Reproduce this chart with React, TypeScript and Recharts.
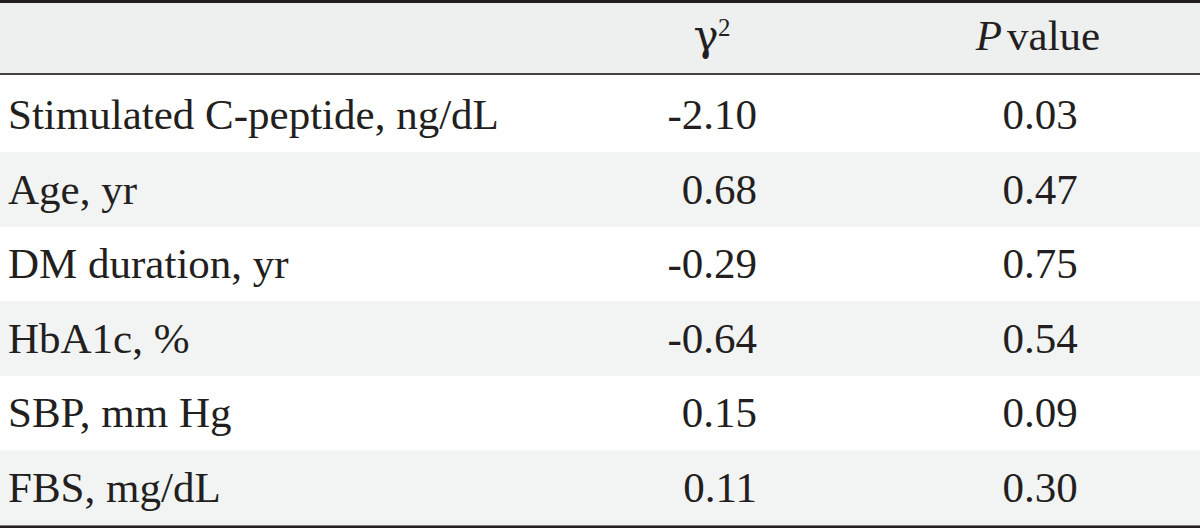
import React from 'react';
import { BarChart, Bar, XAxis, YAxis } from 'recharts';

// Table contents (header row first)
const rowKeys = ['header', 'cpep', 'age', 'dm', 'hba1c', 'sbp', 'fbs'];
const rowLabels = ['', 'Stimulated C-peptide, ng/dL', 'Age, yr', 'DM duration, yr', 'HbA1c, %', 'SBP, mm Hg', 'FBS, mg/dL'];
const gammaValues = ['', '-2.10', '0.68', '-0.29', '-0.64', '0.15', '0.11'];
const pValues = ['', '0.03', '0.47', '0.75', '0.54', '0.09', '0.30'];

const data = rowKeys.map((key, i) => ({
  key,
  label: rowLabels[i],
  gamma: gammaValues[i],
  p: pValues[i],
  span: 1,
}));

const INK = '#231f20';
const HEADER_BG = '#eeefef';
const STRIPE_BG = '#f2f3f3';
const FONT = '"Liberation Serif", "Times New Roman", serif';
const FONT_SIZE = 43;

const LABEL_X = 8;
const GAMMA_RIGHT = 757;
const GAMMA_HEAD_X = 706;
const P_CENTER = 1040;

const RowShape = (props: any) => {
  const { x, y, width, height, index } = props;
  const last = index === data.length - 1;

  if (index === 0) {
    return (
      <g>
        <rect x={x} y={y - 3} width={width} height={3} fill={INK} />
        <rect x={x} y={y} width={width} height={70} fill={HEADER_BG} />
        <rect x={x} y={y + 70} width={width} height={2} fill="#444" />
        <text x={GAMMA_HEAD_X} y={y + 47} textAnchor="middle" fill={INK} fontFamily='"DejaVu Serif", serif' fontWeight={300} fontSize={42}>
          γ
        </text>
        <text x={GAMMA_HEAD_X + 12} y={y + 33} fill={INK} fontFamily={FONT} fontSize={25}>
          2
        </text>
        <text x={P_CENTER - 2} y={y + 47} textAnchor="middle" fill={INK} fontFamily={FONT} fontSize={FONT_SIZE}>
          <tspan fontStyle="italic">P</tspan>
          <tspan dx={5}>value</tspan>
        </text>
      </g>
    );
  }

  const row = data[index];
  const baseline = y + height / 2 + 14;
  return (
    <g>
      <rect x={x} y={y} width={width} height={height} fill={index % 2 === 0 ? STRIPE_BG : '#ffffff'} />
      <text x={LABEL_X} y={baseline} fill={INK} fontFamily={FONT} fontSize={FONT_SIZE}>
        {row.label}
      </text>
      <text x={GAMMA_RIGHT} y={baseline} textAnchor="end" fill={INK} fontFamily={FONT} fontSize={FONT_SIZE}>
        {row.gamma}
      </text>
      <text x={P_CENTER} y={baseline} textAnchor="middle" fill={INK} fontFamily={FONT} fontSize={FONT_SIZE}>
        {row.p}
      </text>
      {last && <rect x={x} y={y + height} width={width} height={3} fill={INK} />}
    </g>
  );
};

const App = () => {
  return (
    <div style={{ position: 'absolute', left: 0, top: 0, background: '#fff' }}>
      <BarChart
        width={1200}
        height={528}
        data={data}
        layout="vertical"
        barCategoryGap={0}
        margin={{ top: 3, right: 0, bottom: 3, left: 0 }}
      >
        <XAxis type="number" domain={[0, 1]} hide />
        <YAxis type="category" dataKey="key" hide />
        <Bar dataKey="span" shape={RowShape} isAnimationActive={false} />
      </BarChart>
    </div>
  );
};

export default App;
